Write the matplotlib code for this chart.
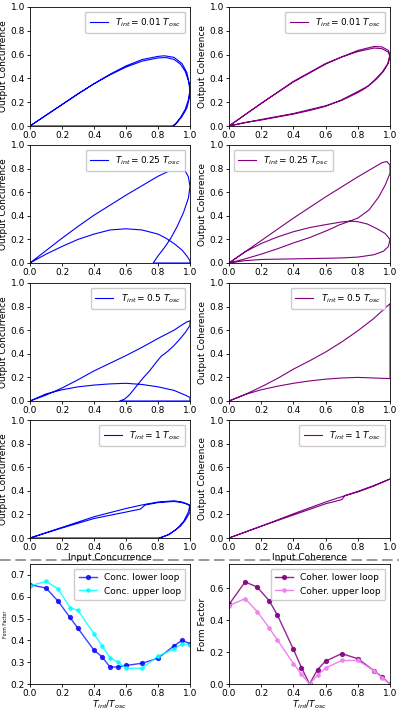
import matplotlib
matplotlib.use("Agg")
import matplotlib.pyplot as plt
from matplotlib.lines import Line2D

# ---------------- data ----------------
conc_001_x = [0, 0.1, 0.2, 0.3, 0.4, 0.5, 0.6, 0.7, 0.8, 0.85, 0.9, 0.94, 0.97, 0.99, 1.0, 0.99, 0.97, 0.94, 0.91, 0.89, 0.5, 0,
              0.1, 0.2, 0.3, 0.4, 0.5, 0.6, 0.7, 0.8, 0.84, 0.9, 0.95, 0.98, 1.0, 0.995, 0.98, 0.95, 0.92, 0.9]
conc_001_y = [0, 0.09, 0.18, 0.27, 0.355, 0.43, 0.495, 0.545, 0.572, 0.575, 0.56, 0.52, 0.46, 0.38, 0.3, 0.22, 0.14, 0.07, 0.02, 0.0, 0.0, 0,
              0.09, 0.18, 0.27, 0.355, 0.435, 0.505, 0.558, 0.585, 0.59, 0.577, 0.525, 0.45, 0.33, 0.23, 0.15, 0.08, 0.03, 0.0]

coh_001_x = [0, 0.2, 0.4, 0.6, 0.7, 0.8, 0.9, 0.95, 0.99, 1.0, 0.99, 0.96, 0.92, 0.87, 0.8, 0.7, 0.6, 0.5, 0.4, 0.3, 0.2, 0.1, 0,
             0.2, 0.4, 0.6, 0.8, 0.9, 0.95, 0.99, 1.0, 0.985, 0.95, 0.9, 0.85, 0.8, 0.7, 0.6, 0.4, 0.2, 0]
coh_001_y = [0, 0.19, 0.37, 0.52, 0.58, 0.625, 0.655, 0.65, 0.62, 0.58, 0.53, 0.46, 0.4, 0.34, 0.29, 0.22, 0.165, 0.13, 0.1, 0.075, 0.05, 0.03, 0,
             0.19, 0.375, 0.525, 0.635, 0.668, 0.665, 0.635, 0.6, 0.52, 0.45, 0.38, 0.32, 0.28, 0.215, 0.17, 0.105, 0.055, 0]

conc_025_x = [0, 0.1, 0.2, 0.3, 0.4, 0.5, 0.6, 0.7, 0.8, 0.87, 0.93, 0.97, 0.99, 1.0, 0.99, 0.96, 0.92, 0.88, 0.84, 0.8, 0.77, 1.0,
              1.0, 0.98, 0.95, 0.9, 0.85, 0.8, 0.7, 0.6, 0.5, 0.4, 0.3, 0.2, 0.1, 0]
conc_025_y = [0, 0.105, 0.21, 0.31, 0.405, 0.49, 0.575, 0.655, 0.735, 0.78, 0.80, 0.78, 0.73, 0.65, 0.55, 0.43, 0.31, 0.21, 0.13, 0.06, 0.0, 0.0,
              0.02, 0.06, 0.11, 0.165, 0.21, 0.245, 0.28, 0.29, 0.28, 0.245, 0.2, 0.14, 0.075, 0]

coh_025_x = [0, 0.2, 0.4, 0.6, 0.8, 0.9, 0.95, 0.98, 1.0, 1.0, 0.97, 0.93, 0.87, 0.8, 0.72, 0.68, 0.65, 0.6, 0.5, 0.4, 0.3, 0.2, 0.1, 0,
             0.1, 0.2, 0.3, 0.4, 0.5, 0.6, 0.7, 0.75, 0.8, 0.86, 0.92, 0.97, 1.0, 0.99, 0.96, 0.9, 0.8, 0.7, 0.6, 0.4, 0.2, 0.1, 0]
coh_025_y = [0, 0.19, 0.38, 0.56, 0.73, 0.81, 0.85, 0.86, 0.83, 0.76, 0.66, 0.56, 0.45, 0.38, 0.34, 0.32, 0.30, 0.27, 0.215, 0.17, 0.12, 0.075, 0.035, 0,
             0.095, 0.165, 0.22, 0.265, 0.3, 0.325, 0.348, 0.355, 0.35, 0.33, 0.29, 0.25, 0.2, 0.14, 0.1, 0.07, 0.05, 0.043, 0.04, 0.035, 0.03, 0.02, 0]

conc_05_x = [0, 0.1, 0.2, 0.3, 0.4, 0.5, 0.6, 0.7, 0.8, 0.9, 0.95, 0.98, 1.0, 1.0, 0.97, 0.94, 0.9, 0.86, 0.82, 0.79, 0.75, 0.71, 0.68, 0.65, 0.62, 0.59, 0.56, 1.0,
             1.0, 0.97, 0.9, 0.8, 0.7, 0.6, 0.5, 0.4, 0.3, 0.2, 0.1, 0]
conc_05_y = [0, 0.05, 0.11, 0.18, 0.255, 0.32, 0.385, 0.455, 0.53, 0.6, 0.645, 0.67, 0.68, 0.64, 0.58, 0.53, 0.47, 0.42, 0.38, 0.33, 0.26, 0.2, 0.15, 0.1, 0.05, 0.015, 0.0, 0.0,
             0.03, 0.05, 0.09, 0.12, 0.14, 0.15, 0.145, 0.135, 0.12, 0.095, 0.06, 0]

coh_05_x = [0, 0.1, 0.2, 0.3, 0.4, 0.5, 0.6, 0.7, 0.8, 0.9, 1.0, 1.0, 0.9, 0.8, 0.7, 0.6, 0.5, 0.4, 0.3, 0.2, 0.1, 0]
coh_05_y = [0, 0.055, 0.12, 0.19, 0.27, 0.34, 0.415, 0.5, 0.595, 0.7, 0.825, 0.19, 0.195, 0.2, 0.195, 0.185, 0.17, 0.15, 0.125, 0.095, 0.055, 0]

conc_1_x = [0, 0.1, 0.2, 0.3, 0.4, 0.5, 0.6, 0.7, 0.8, 0.85, 0.9, 0.95, 0.98, 1.0, 1.0, 0.97, 0.94, 0.9, 0.86, 0.82, 0.8, 0,
            0.2, 0.4, 0.6, 0.69, 0.72, 0.8, 0.9, 0.95, 1.0, 0.99, 0.96, 0.92, 0.87, 0.81]
conc_1_y = [0, 0.045, 0.09, 0.135, 0.18, 0.215, 0.25, 0.28, 0.305, 0.31, 0.315, 0.305, 0.29, 0.27, 0.22, 0.15, 0.1, 0.06, 0.025, 0.005, 0.0, 0.0,
            0.085, 0.165, 0.22, 0.245, 0.28, 0.3, 0.31, 0.3, 0.28, 0.22, 0.14, 0.08, 0.03, 0.0]

coh_1_x = [0, 0.2, 0.4, 0.5, 0.6, 0.7, 0.8, 0.9, 1.0, 0.9, 0.8, 0.72, 0.7, 0.6, 0.4, 0.2, 0]
coh_1_y = [0, 0.1, 0.205, 0.255, 0.305, 0.35, 0.39, 0.44, 0.5, 0.445, 0.395, 0.36, 0.325, 0.29, 0.195, 0.1, 0]

t_ratio = [0, 0.1, 0.175, 0.25, 0.3, 0.4, 0.45, 0.5, 0.55, 0.6, 0.7, 0.8, 0.9, 0.95, 1.0]
conc_lower = [0.655, 0.64, 0.58, 0.505, 0.455, 0.355, 0.325, 0.278, 0.278, 0.285, 0.295, 0.318, 0.375, 0.40, 0.385]
conc_upper = [0.65, 0.67, 0.637, 0.55, 0.537, 0.43, 0.375, 0.32, 0.30, 0.272, 0.272, 0.328, 0.36, 0.385, 0.38]
coh_lower = [0.497, 0.638, 0.606, 0.52, 0.432, 0.217, 0.103, 0.0, 0.09, 0.143, 0.19, 0.158, 0.084, 0.045, 0.0]
coh_upper = [0.49, 0.533, 0.453, 0.35, 0.276, 0.128, 0.06, 0.0, 0.055, 0.10, 0.147, 0.147, 0.084, 0.04, 0.0]

t_labels = ["0.01", "0.25", "0.5", "1"]
tick_vals = [0.0, 0.2, 0.4, 0.6, 0.8, 1.0]

# ---------------- figure ----------------
W, H = 399, 710
fig = plt.figure(figsize=(W / 100, H / 100), dpi=100)
plt.rcParams['font.family'] = ['DejaVu Sans']
FS = 6.5

def add_ax(x0, x1, y0, y1):
    return fig.add_axes([x0 / W, 1 - y1 / H, (x1 - x0) / W, (y1 - y0) / H])

def style(ax):
    ax.tick_params(labelsize=FS, length=2.5, width=0.6, pad=1.2)
    for s in ax.spines.values():
        s.set_linewidth(0.6)

rows = [(7, 126), (145, 263), (283, 401), (420, 538)]
lx = (30, 190)
rx = (229, 390)

conc_data = [(conc_001_x, conc_001_y), (conc_025_x, conc_025_y), (conc_05_x, conc_05_y), (conc_1_x, conc_1_y)]
coh_data = [(coh_001_x, coh_001_y), (coh_025_x, coh_025_y), (coh_05_x, coh_05_y), (coh_1_x, coh_1_y)]
coh_leg_loc = ['upper right', 'upper left', 'upper right', 'upper right']

for i, (y0, y1) in enumerate(rows):
    lab = r'$T_{int} = %s\ T_{osc}$' % t_labels[i]
    ax = add_ax(lx[0], lx[1], y0, y1)
    ax.plot(conc_data[i][0], conc_data[i][1], color='blue', lw=0.8, label=lab)
    ax.set_xlim(0, 1)
    ax.set_ylim(0, 1)
    ax.set_xticks(tick_vals)
    ax.set_yticks(tick_vals)
    ax.set_ylabel('Output Concurrence', fontsize=FS, labelpad=1.5)
    ax.legend(loc='upper right', fontsize=FS, handlelength=2.0, borderpad=0.5, framealpha=1)
    style(ax)
    if i == 3:
        ax.set_xlabel('Input Concurrence', fontsize=FS, labelpad=0.5)

    ax = add_ax(rx[0], rx[1], y0, y1)
    ax.plot(coh_data[i][0], coh_data[i][1], color='purple', lw=0.8, label=lab)
    ax.set_xlim(0, 1)
    ax.set_ylim(0, 1)
    ax.set_xticks(tick_vals)
    ax.set_yticks(tick_vals)
    ax.set_ylabel('Output Coherence', fontsize=FS, labelpad=1.5)
    ax.legend(loc=coh_leg_loc[i], fontsize=FS, handlelength=2.0, borderpad=0.5, framealpha=1)
    style(ax)
    if i == 3:
        ax.set_xlabel('Input Coherence', fontsize=FS, labelpad=0.5)

# separator
fig.add_artist(Line2D([0, 1], [1 - 560 / H, 1 - 560 / H], transform=fig.transFigure,
                      color='gray', lw=1.1, linestyle=(0, (7, 3)), zorder=0))

# bottom panels
by0, by1 = 564, 684
ax = add_ax(lx[0], lx[1], by0, by1)
ax.plot(t_ratio, conc_lower, color='blue', marker='o', ms=2.8, lw=1, alpha=0.75, label='Conc. lower loop')
ax.plot(t_ratio, conc_upper, color='cyan', marker='o', ms=2.3, lw=1, alpha=0.85, label='Conc. upper loop')
ax.set_xlim(0, 1)
ax.set_ylim(0.2, 0.75)
ax.set_xticks(tick_vals)
ax.set_yticks([0.2, 0.3, 0.4, 0.5, 0.6, 0.7])
ax.set_ylabel('Form Factor', fontsize=3.3, labelpad=2)
ax.set_xlabel(r'$T_{int}/T_{osc}$', fontsize=FS, labelpad=0)
ax.legend(loc='upper right', fontsize=FS, handlelength=2.0, borderpad=0.5, framealpha=1)
style(ax)

ax = add_ax(rx[0], rx[1], by0, by1)
ax.plot(t_ratio, coh_lower, color='purple', marker='o', ms=2.8, lw=1, alpha=0.85, label='Coher. lower loop')
ax.plot(t_ratio, coh_upper, color='violet', marker='o', ms=2.3, lw=1, label='Coher. upper loop')
ax.set_xlim(0, 1)
ax.set_ylim(0, 0.75)
ax.set_xticks(tick_vals)
ax.set_yticks([0.0, 0.2, 0.4, 0.6])
ax.set_ylabel('Form Factor', fontsize=FS, labelpad=1.5)
ax.set_xlabel(r'$T_{int}/T_{osc}$', fontsize=FS, labelpad=0)
ax.legend(loc='upper right', fontsize=FS, handlelength=2.0, borderpad=0.5, framealpha=1)
style(ax)

fig.savefig('out.png', dpi=100)
